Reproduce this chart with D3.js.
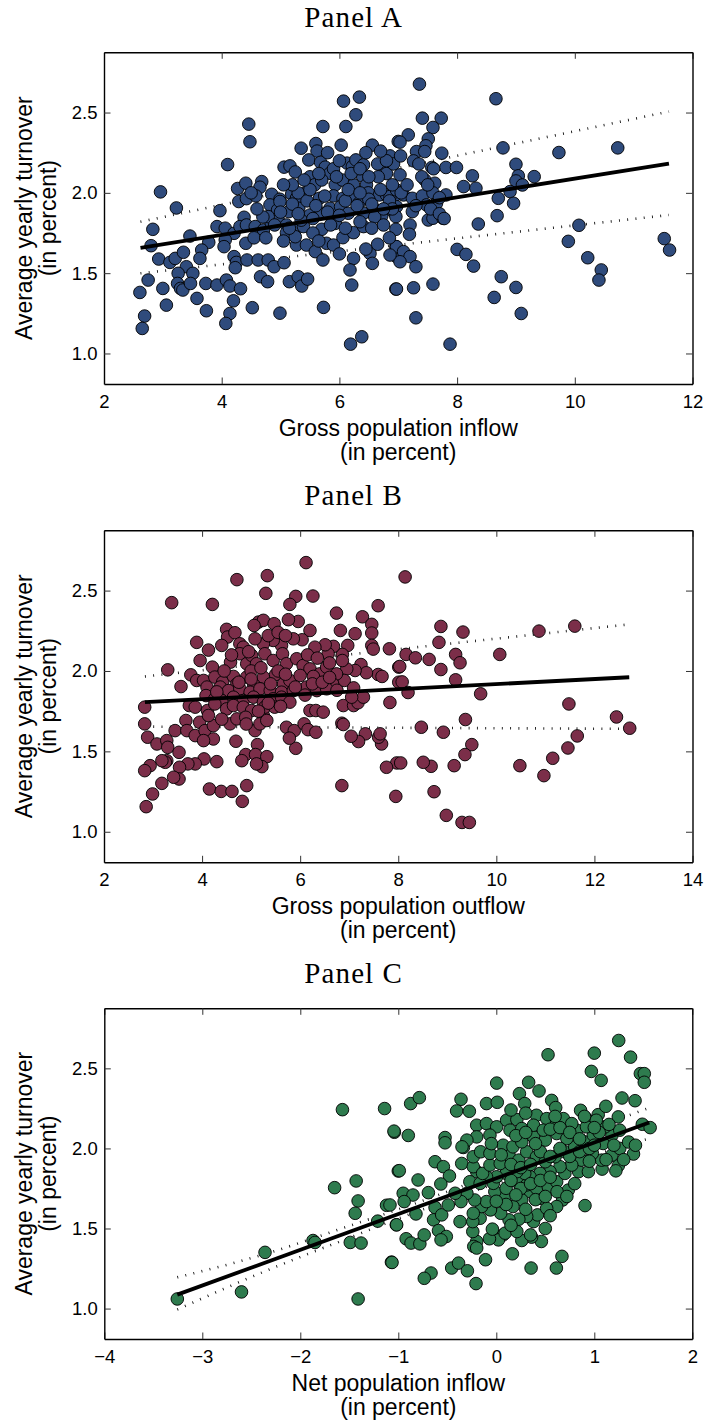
<!DOCTYPE html>
<html><head><meta charset="utf-8">
<script src="https://cdn.jsdelivr.net/npm/d3@7"></script>
<style>body{margin:0;background:#fff}</style>
</head><body>
<svg id="chart" width="707" height="1422"></svg>
<script>
// ---------- data ----------
const yTicks = [1.0, 1.5, 2.0, 2.5];
const xTicksA = [2, 4, 6, 8, 10, 12];
const xTicksB = [2, 4, 6, 8, 10, 12, 14];
const xTicksC = [-4, -3, -2, -1, 0, 1, 2];

// Panel A: gross population inflow vs turnover
const pointsA = [[6.07,2.571],[6.34,2.596],[6.28,2.486],[6.11,2.413],[5.72,2.413],[4.46,2.428],[4.48,2.318],[5.35,2.278],[5.6,2.307],[5.62,2.26],[6.03,2.297],[6.56,2.297],[4.1,2.176],[5.06,2.16],[5.16,2.168],[5.25,2.13],[5.48,2.205],[5.68,2.19],[5.76,2.16],[5.84,2.122],[6.13,2.185],[6.22,2.164],[6.28,2.205],[6.41,2.174],[6.39,2.106],[6.75,2.153],[6.86,2.23],[7.0,2.32],[6.8,2.12],[6.92,2.18],[5.5,2.1],[5.58,2.05],[5.93,2.05],[6.24,2.05],[6.46,2.05],[6.66,2.1],[4.27,2.027],[4.41,2.06],[4.68,2.07],[4.65,2.035],[4.85,1.991],[2.96,2.006],[3.23,1.906],[3.97,1.889],[4.29,1.946],[4.42,1.964],[4.58,1.981],[4.99,1.96],[5.19,1.993],[5.27,1.966],[5.43,2.0],[5.66,1.966],[5.9,1.981],[6.06,1.966],[6.24,1.977],[6.33,1.935],[6.49,2.0],[6.68,1.987],[6.8,1.987],[6.94,1.981],[4.82,1.925],[4.95,1.894],[5.14,1.883],[5.31,1.904],[5.5,1.862],[5.7,1.873],[5.84,1.904],[6.02,1.914],[6.15,1.873],[6.41,1.873],[6.58,1.904],[6.72,1.856],[6.92,1.883],[4.38,1.848],[2.83,1.773],[2.8,1.671],[3.92,1.79],[4.06,1.78],[4.21,1.748],[4.31,1.79],[4.42,1.8],[4.57,1.79],[4.71,1.769],[4.84,1.815],[4.96,1.831],[5.1,1.8],[5.1,1.752],[5.25,1.769],[5.39,1.79],[5.27,1.675],[5.25,1.727],[5.44,1.675],[5.59,1.634],[5.7,1.773],[5.72,1.582],[5.78,1.686],[5.9,1.675],[5.93,1.81],[6.06,1.721],[6.24,1.752],[6.41,1.79],[6.24,1.592],[6.18,1.52],[6.21,1.426],[6.52,1.623],[6.56,1.561],[6.97,1.603],[6.96,1.665],[6.96,1.401],[3.46,1.731],[3.78,1.692],[3.66,1.644],[3.63,1.592],[4.06,1.707],[4.04,1.665],[4.21,1.603],[4.25,1.567],[4.23,1.534],[4.41,1.686],[4.43,1.582],[4.62,1.582],[4.79,1.582],[4.89,1.54],[5.06,1.565],[2.93,1.588],[3.12,1.567],[3.21,1.592],[3.35,1.63],[3.4,1.54],[3.26,1.499],[3.51,1.499],[2.75,1.457],[3.0,1.405],[2.61,1.38],[3.25,1.436],[3.3,1.405],[3.34,1.395],[3.47,1.436],[3.73,1.436],[3.92,1.426],[4.08,1.457],[4.14,1.42],[4.32,1.403],[4.66,1.478],[4.78,1.447],[5.15,1.447],[5.3,1.478],[5.36,1.42],[5.46,1.463],[5.73,1.287],[3.06,1.301],[3.58,1.343],[4.2,1.328],[4.14,1.249],[4.07,1.187],[3.74,1.266],[4.52,1.285],[4.99,1.251],[2.69,1.233],[2.65,1.156],[6.19,1.058],[6.38,1.104],[4.79,1.852],[4.99,1.946],
[7.36,2.677],[8.66,2.586],[7.41,2.465],[7.73,2.465],[7.59,2.407],[7.51,2.336],[7.17,2.361],[7.03,2.316],[7.47,2.293],[7.31,2.257],[7.45,2.257],[7.74,2.247],[8.78,2.28],[9.73,2.251],[10.73,2.28],[7.04,2.23],[7.26,2.199],[7.57,2.158],[7.81,2.158],[7.99,2.158],[7.03,2.112],[7.45,2.081],[7.62,2.06],[8.11,2.039],[8.26,2.106],[8.32,2.029],[9.0,2.178],[9.04,2.106],[9.0,2.074],[9.11,2.049],[9.31,2.101],[8.9,2.008],[8.7,1.966],[8.96,1.935],[8.68,1.858],[8.36,1.806],[10.07,1.798],[6.86,1.977],[6.97,2.018],[7.09,1.987],[7.24,1.966],[7.41,1.981],[7.59,2.0],[7.81,1.987],[7.48,1.925],[7.65,1.935],[6.97,1.914],[7.24,1.883],[6.96,1.852],[7.51,1.831],[7.59,1.842],[7.76,1.842],[6.96,1.773],[7.2,1.8],[7.19,1.742],[6.97,1.665],[7.09,1.634],[7.2,1.603],[7.03,1.571],[7.3,1.54],[6.86,1.613],[8.0,1.648],[8.15,1.617],[8.28,1.544],[9.89,1.698],[10.22,1.596],[10.45,1.52],[10.41,1.457],[11.52,1.715],[11.61,1.644],[7.59,1.432],[6.97,1.401],[7.26,1.409],[7.3,1.222],[7.88,1.058],[8.75,1.478],[9.0,1.411],[8.63,1.349],[9.09,1.249],
[5.3,2.0],[5.45,1.95],[5.6,1.92],[5.8,1.88],[6.0,1.86],[6.1,1.95],[6.3,1.92],[6.5,1.96],[6.6,1.85],[6.7,2.02],[6.85,1.95],[5.0,1.88],[5.15,1.78],[5.35,1.83],[5.55,1.75],[5.75,1.98],[6.05,2.08],[6.2,2.12],[6.35,2.15],[6.5,2.1],[6.65,2.18],[6.8,2.2],[5.9,2.15],[5.7,2.08],[5.5,2.02],[5.2,1.93],[4.9,1.8],[4.7,1.85],[4.55,1.72],[6.9,1.9],[7.05,2.0],[7.15,2.05],[7.3,1.92],[7.4,2.1],[7.5,2.05],[7.6,2.15],[7.7,1.97],[7.35,2.18],[7.55,1.9],[7.7,1.87],[7.78,1.84],
[5.2,2.05],[5.4,2.08],[5.65,2.12],[5.95,2.1],[6.15,2.02],[6.35,2.0],[6.55,1.93],[6.75,1.9],[6.9,2.05],[5.3,1.87],[5.55,1.84],[5.85,1.8],[6.1,1.78],[6.35,1.82],[6.55,1.78],[6.75,1.8],[6.85,1.72],[6.65,1.68],[6.45,1.65],[6.0,1.62],[5.65,1.7],[5.05,1.7],[4.75,1.72],[4.6,1.9],[4.5,2.0],[5.05,2.05],[5.8,2.25],[6.0,2.2],[6.45,2.25],[6.7,2.26]];
const fitA = [[2.62,1.658],[11.6,2.182]];
const upperA = [[2.62,1.82],[11.6,2.506]];
const lowerA = [[2.62,1.499],[11.6,1.862]];

// Panel B: gross population outflow vs turnover
const pointsB = [[6.12,2.674],[4.71,2.568],[5.33,2.593],[5.3,2.483],[3.38,2.425],[4.21,2.414],[5.91,2.464],[5.79,2.414],[6.26,2.466],[7.59,2.406],[6.74,2.36],[7.27,2.337],[7.46,2.29],[7.46,2.236],[7.46,2.159],[7.49,2.136],[7.82,2.138],[8.01,2.024],[8.01,1.93],[7.59,1.978],[7.67,1.966],[7.83,1.804],[7.97,1.428],[7.95,1.22],[7.76,1.401],[7.66,1.546],[7.6,1.588],[7.63,1.609],[7.33,1.609],[7.19,1.561],[7.04,1.594],[6.85,1.287],[6.85,1.675],[6.88,1.667],[6.88,1.785],[7.09,1.785],[7.18,1.802],[7.29,1.837],[7.24,2.04],[7.35,1.989],[7.12,2.003],[6.95,2.013],[6.9,1.941],[7.09,1.895],[6.82,2.252],[7.12,2.232],[6.97,2.159],[6.86,2.103],[6.86,2.065],[6.68,2.153],[6.57,2.107],[6.51,2.163],[6.3,2.148],[6.2,2.252],[5.96,2.308],[5.76,2.319],[6.04,2.194],[5.86,2.2],[5.62,2.159],[5.45,2.19],[5.25,2.169],[5.08,2.2],[5.15,2.304],[5.25,2.315],[5.06,2.283],[5.47,2.294],[4.5,2.259],[4.52,2.211],[4.67,2.238],[3.89,2.178],[4.13,2.13],[4.4,2.159],[4.77,2.169],[4.84,2.148],[3.96,2.065],[4.21,2.024],[4.58,2.055],[4.77,2.107],[4.91,2.045],[5.01,2.097],[5.11,2.045],[5.28,2.107],[5.45,2.065],[5.64,2.107],[5.72,2.045],[5.93,2.076],[6.06,2.034],[6.2,2.013],[6.4,1.982],[6.54,2.024],[6.74,1.982],[3.3,2.007],[3.77,1.976],[3.57,1.903],[3.89,1.941],[4.03,1.941],[4.26,1.962],[4.42,1.93],[4.64,1.966],[4.71,1.92],[4.91,1.962],[5.05,1.92],[5.25,1.962],[5.5,1.978],[5.66,1.92],[5.79,1.941],[6.0,1.972],[6.27,1.966],[6.66,1.92],[4.1,1.9],[4.37,1.9],[4.54,1.878],[4.77,1.889],[4.98,1.868],[5.18,1.889],[5.39,1.878],[5.62,1.868],[5.86,1.878],[6.13,1.9],[6.34,1.878],[6.54,1.889],[7.05,1.837],[4.08,1.847],[4.26,1.827],[4.4,1.816],[4.64,1.837],[4.84,1.816],[5.05,1.837],[5.25,1.806],[5.45,1.827],[5.62,1.837],[5.79,1.806],[3.74,1.785],[3.86,1.775],[4.11,1.754],[4.26,1.795],[4.5,1.764],[4.64,1.785],[4.84,1.775],[5.01,1.754],[5.25,1.723],[5.28,1.775],[5.48,1.775],[6.2,1.754],[6.32,1.754],[6.47,1.744],[2.83,1.775],[2.83,1.671],[2.89,1.588],[3.08,1.546],[3.28,1.567],[3.3,1.525],[3.45,1.629],[3.67,1.692],[3.69,1.629],[3.86,1.598],[3.95,1.681],[4.06,1.629],[4.23,1.66],[4.13,1.723],[4.23,1.577],[4.03,1.567],[4.57,1.671],[4.71,1.702],[4.89,1.712],[5.08,1.629],[5.18,1.671],[5.32,1.692],[5.72,1.65],[5.88,1.629],[6.08,1.671],[6.16,1.635],[6.32,1.619],[5.91,1.519],[5.78,1.582],[5.13,1.542],[4.69,1.563],[4.89,1.48],[5.09,1.48],[5.32,1.467],[5.22,1.405],[5.11,1.422],[4.81,1.442],[4.3,1.436],[4.04,1.453],[3.86,1.422],[3.71,1.422],[3.53,1.494],[3.54,1.401],[3.53,1.328],[3.42,1.339],[3.28,1.442],[3.25,1.432],[3.18,1.442],[2.94,1.411],[2.83,1.38],[3.18,1.301],[2.99,1.235],[2.86,1.156],[4.15,1.266],[4.39,1.251],[4.61,1.251],[4.91,1.287],[4.82,1.189],
[8.14,2.585],[8.87,2.277],[9.32,2.242],[8.83,2.178],[8.16,2.103],[8.35,2.082],[8.63,2.072],[9.17,2.103],[9.26,2.051],[8.87,2.009],[8.03,2.028],[10.07,2.103],[10.87,2.248],[11.6,2.279],[9.17,1.945],[8.08,1.932],[8.2,1.866],[9.68,1.858],[11.48,1.795],[9.37,1.698],[12.45,1.714],[12.72,1.644],[8.47,1.65],[8.92,1.619],[9.5,1.542],[9.36,1.48],[11.65,1.596],[11.46,1.521],[11.15,1.457],[10.97,1.349],[10.48,1.411],[9.14,1.411],[8.67,1.407],[8.51,1.432],[8.05,1.428],[8.73,1.249],[8.98,1.102],[9.3,1.058],[9.45,1.058],
[5.0,2.0],[5.2,2.02],[5.4,1.92],[5.55,2.0],[5.7,1.98],[5.9,1.9],[6.1,1.85],[6.25,1.92],[6.45,1.93],[6.6,1.96],[6.75,1.88],[4.45,2.0],[4.6,2.1],[4.95,2.12],[5.35,2.22],[5.55,2.24],[5.7,2.22],[6.15,2.1],[6.35,2.08],[6.6,2.05],[5.15,1.75],[5.35,1.8],[5.6,1.78],[4.9,1.67],[4.4,1.7],[4.3,1.87],[4.75,1.93],[5.0,1.95]];
const fitB = [[2.835,1.806],[12.71,1.961]];
const upperB = [[2.835,1.966],[12.71,2.29]];
const lowerB = [[2.835,1.654],[12.71,1.64]];

// Panel C: net population inflow vs turnover
const pointsC = [[-3.255,1.06],[-2.6,1.104],[-2.36,1.351],[-1.87,1.425],[-1.85,1.413],[-1.49,1.413],[-1.38,1.409],[-1.41,1.06],[-1.57,2.242],[-1.14,2.249],[-1.04,2.101],[-1.65,1.755],[-1.43,1.797],[-1.41,1.672],[-1.44,1.595],[-1.21,1.546],[-1.12,1.645],[-1.07,1.29],[-1.0,1.859],[-1.02,1.523],
[1.249,2.674],[0.528,2.585],[1.0,2.595],[0.97,2.481],[1.07,2.425],[1.37,2.57],[1.47,2.467],[1.51,2.467],[1.51,2.413],[0.004,2.408],[0.33,2.413],[0.236,2.342],[0.29,2.28],[0.436,2.359],[0.565,2.3],[0.606,2.255],[1.283,2.315],[1.416,2.298],[0.86,2.238],[0.92,2.184],[1.04,2.211],[1.118,2.263],[1.245,2.197],[1.49,2.151],[1.57,2.13],[-0.36,2.307],[-0.405,2.234],[-0.275,2.232],[-0.1,2.28],[0.01,2.288],[-0.874,2.28],[-0.785,2.317],[-1.044,2.108],[-0.898,2.081],[-0.523,2.068],[-0.523,2.035],[-0.336,2.006],[-0.625,1.917],[-0.54,1.886],[-0.478,1.828],[-0.566,1.778],[-0.99,1.861],[-0.798,1.803],[-0.693,1.724],[-0.95,1.72],[-0.85,1.709],[-0.94,1.668],[-1.017,1.523],[-1.085,1.647],[-0.82,1.591],[-0.625,1.631],[-0.64,1.554],[-0.557,1.585],[-0.49,1.647],[-0.37,1.543],[-0.59,1.487],[-0.51,1.45],[-0.564,1.429],[-0.92,1.436],[-0.87,1.409],[-0.78,1.404],[-0.736,1.46],[-1.064,1.288],[-0.455,1.253],[-0.385,1.284],[-0.295,1.236],[-0.666,1.222],[-0.735,1.189],[-0.207,1.156],[-0.11,1.305],[0.164,1.342],[0.355,1.253],[0.613,1.253],[0.67,1.326],[0.46,1.419],[0.36,1.446],[0.26,1.425],[0.07,1.46],[0.022,1.429],[-0.07,1.436],[-0.2,1.419],[-0.23,1.388],[-0.2,1.378],[-0.24,1.481],[-0.04,1.496],[0.09,1.471],[0.21,1.481],[0.38,1.543],[0.42,1.585],[0.31,1.575],[0.23,1.558],[0.13,1.554],[0.045,1.595],[-0.06,1.616],[-0.165,1.564],[-0.24,1.543],[-0.15,1.637],[-0.235,1.595],[0.905,1.643],[0.735,1.74],[0.677,1.678],[0.616,1.637],[0.514,1.626],[0.446,1.689],[0.344,1.73],[0.26,1.678],[0.17,1.637],[0.09,1.699],[-0.015,1.73],[-0.1,1.668],[-0.22,1.678],[-0.3,1.72],[-0.36,1.668],[-0.42,1.72],[-0.03,1.782],[0.1,1.751],[0.21,1.792],[0.31,1.772],[0.41,1.751],[0.53,1.761],[0.616,1.792],[0.7,1.844],[0.84,1.855],[0.94,1.855],[1.08,1.871],[1.245,1.892],[1.4,1.965],[1.075,1.927],[1.18,1.958],[1.26,2.0],[0.98,1.969],[0.87,1.927],[0.77,1.896],[0.65,1.886],[0.548,1.855],[0.446,1.844],[0.344,1.823],[0.29,1.844],[0.21,1.855],[0.1,1.844],[0.004,1.823],[-0.1,1.823],[-0.2,1.855],[-0.27,1.792],[-0.165,1.782],[-0.353,1.906],[-0.235,1.886],[-0.14,1.844],[-0.065,1.896],[0.04,1.906],[0.13,1.958],[0.23,1.927],[0.31,1.979],[0.41,1.948],[0.5,1.917],[0.6,1.948],[0.7,1.979],[0.8,2.01],[0.9,2.041],[0.99,2.083],[1.09,2.031],[1.18,2.083],[1.26,2.114],[1.11,2.135],[1.02,2.176],[-0.235,1.948],[-0.16,1.979],[-0.065,1.969],[0.07,2.02],[0.17,2.01],[0.26,2.041],[0.38,2.072],[0.5,2.052],[0.616,2.093],[0.72,2.062],[0.82,2.114],[0.92,2.135],[-0.2,2.145],[-0.1,2.155],[0.004,2.135],[0.105,2.176],[0.21,2.18],[0.14,2.114],[0.26,2.124],[0.41,2.207],[0.514,2.186],[0.616,2.166],[0.685,2.186],[0.77,2.155],[0.38,2.145],[0.48,2.114],[-0.2,2.072],[-0.065,2.083],[-0.3,2.052],[-0.35,2.01],
[0.15,1.9],[0.25,1.88],[0.35,1.9],[0.45,1.98],[0.55,1.95],[0.65,2.0],[0.75,1.95],[0.85,1.98],[0.95,2.0],[1.05,2.1],[1.15,2.15],[1.2,2.02],[0.2,2.08],[0.3,2.1],[0.4,2.03],[0.55,2.12],[0.65,2.13],[0.75,2.1],[0.9,2.2],[1.0,2.13],[0.05,1.96],[-0.05,2.03],[0.15,1.8],[0.25,1.75],[0.35,1.78],[0.45,1.8],[0.55,1.82],[0.62,1.73],[0.4,1.68],[0.5,1.7],[0.2,1.71],[0.1,1.65],[0.0,1.67],[0.3,1.62],[0.55,1.58],[0.5,1.5],[0.15,1.52],[0.35,1.46],[1.12,1.93],[1.22,1.86],[1.3,1.93],[1.35,2.04],[1.42,2.02],[0.72,1.7],[0.8,1.78],[0.95,1.92],[1.0,2.02],[0.85,2.06],[0.6,2.2],[0.3,2.22],[0.15,2.24]];
const fitC = [[-3.255,1.087],[1.561,2.162]];
const upperC = [[-3.255,1.195],[-2.4,1.333],[-1.5,1.516],[-0.9,1.641],[0,1.848],[0.8,2.058],[1.3,2.194],[1.561,2.253]];
const lowerC = [[-3.255,0.994],[-2.4,1.223],[-1.5,1.442],[-0.9,1.585],[0,1.78],[0.8,1.926],[1.3,2.014],[1.561,2.062]];

// ---------- layout ----------
const yDomain = [0.81, 2.875];
const panels = [
  {title:"Panel A", xlabel:"Gross population inflow", xdomain:[2,12], xticks:xTicksA,
   points:pointsA, fit:fitA, upper:upperA, lower:lowerA, color:"#2f4b7c",
   box:{l:104, r:692.5, t:52.3, b:384}},
  {title:"Panel B", xlabel:"Gross population outflow", xdomain:[2,14], xticks:xTicksB,
   points:pointsB, fit:fitB, upper:upperB, lower:lowerB, color:"#7b2e49",
   box:{l:104, r:692.5, t:530.3, b:862.3}},
  {title:"Panel C", xlabel:"Net population inflow", xdomain:[-4,2], xticks:xTicksC,
   points:pointsC, fit:fitC, upper:upperC, lower:lowerC, color:"#2e7b4e",
   box:{l:104.3, r:692.3, t:1008.3, b:1339}}
];

const svg = d3.select("#chart");
const sans = "'Liberation Sans', Arial, Helvetica, sans-serif";
const serif = "'Liberation Serif', 'Times New Roman', serif";
const fmtY = d3.format(".1f");
const fmtX = d3.format("d");

panels.forEach(p => {
  const B = p.box;
  const x = d3.scaleLinear().domain(p.xdomain).range([B.l, B.r]);
  const y = d3.scaleLinear().domain(yDomain).range([B.b, B.t]);
  const g = svg.append("g");

  // title
  g.append("text").attr("x", 353.7).attr("y", B.t - 25.8)
    .attr("text-anchor", "middle").attr("font-family", serif)
    .attr("font-size", 29).attr("letter-spacing", 1.1).text(p.title);

  const clipId = "clip" + p.title.replace(/\s/g, "");
  svg.append("clipPath").attr("id", clipId).append("rect")
    .attr("x", B.l).attr("y", B.t).attr("width", B.r - B.l).attr("height", B.b - B.t);
  const m = g.append("g").attr("clip-path", `url(#${clipId})`);

  const line = d3.line().x(d => x(d[0])).y(d => y(d[1]));
  const curve = d3.line().x(d => x(d[0])).y(d => y(d[1])).curve(d3.curveMonotoneX);

  // dotted confidence lines (MATLAB ':' style, rendered as short ticks)
  [p.upper, p.lower].forEach(band => {
    m.append("path").attr("d", curve(band)).attr("fill", "none")
      .attr("stroke", "#111").attr("stroke-width", 2.6)
      .attr("stroke-dasharray", "0.9,7.4");
  });

  m.selectAll("circle").data(p.points).join("circle")
    .attr("cx", d => x(d[0])).attr("cy", d => y(d[1])).attr("r", 6.3)
    .attr("fill", p.color).attr("stroke", "#000").attr("stroke-width", 0.9);

  m.append("path").attr("d", line(p.fit)).attr("fill", "none")
    .attr("stroke", "#000").attr("stroke-width", 3.8);

  // axes (inward ticks on all four sides)
  const styleAxis = sel => {
    sel.select(".domain").attr("stroke", "#000").attr("stroke-width", 1.4);
    sel.selectAll(".tick line").attr("stroke", "#333").attr("stroke-width", 1);
    sel.selectAll(".tick text").attr("font-family", sans).attr("font-size", 18.5).attr("fill", "#000");
  };
  g.append("g").attr("transform", `translate(0,${B.b})`)
    .call(d3.axisBottom(x).tickValues(p.xticks).tickFormat(fmtX)
      .tickSizeInner(-6.5).tickSizeOuter(0).tickPadding(11)).call(styleAxis);
  g.append("g").attr("transform", `translate(0,${B.t})`)
    .call(d3.axisTop(x).tickValues(p.xticks).tickFormat("")
      .tickSizeInner(-6.5).tickSizeOuter(0)).call(styleAxis);
  g.append("g").attr("transform", `translate(${B.l},0)`)
    .call(d3.axisLeft(y).tickValues(yTicks).tickFormat(fmtY)
      .tickSizeInner(-6.5).tickSizeOuter(0).tickPadding(6.5)).call(styleAxis);
  g.append("g").attr("transform", `translate(${B.r},0)`)
    .call(d3.axisRight(y).tickValues(yTicks).tickFormat("")
      .tickSizeInner(-6.5).tickSizeOuter(0)).call(styleAxis);

  // axis labels
  const cx = (B.l + B.r) / 2, cy = (B.t + B.b) / 2;
  g.append("text").attr("x", cx).attr("y", B.b + 52).attr("text-anchor", "middle")
    .attr("font-family", sans).attr("font-size", 23).text(p.xlabel);
  g.append("text").attr("x", cx).attr("y", B.b + 76).attr("text-anchor", "middle")
    .attr("font-family", sans).attr("font-size", 23).text("(in percent)");
  g.append("text").attr("transform", `translate(31.5,${cy}) rotate(-90)`).attr("text-anchor", "middle")
    .attr("font-family", sans).attr("font-size", 23).text("Average yearly turnover");
  g.append("text").attr("transform", `translate(56,${cy}) rotate(-90)`).attr("text-anchor", "middle")
    .attr("font-family", sans).attr("font-size", 23).text("(in percent)");
});
</script>
</body></html>
